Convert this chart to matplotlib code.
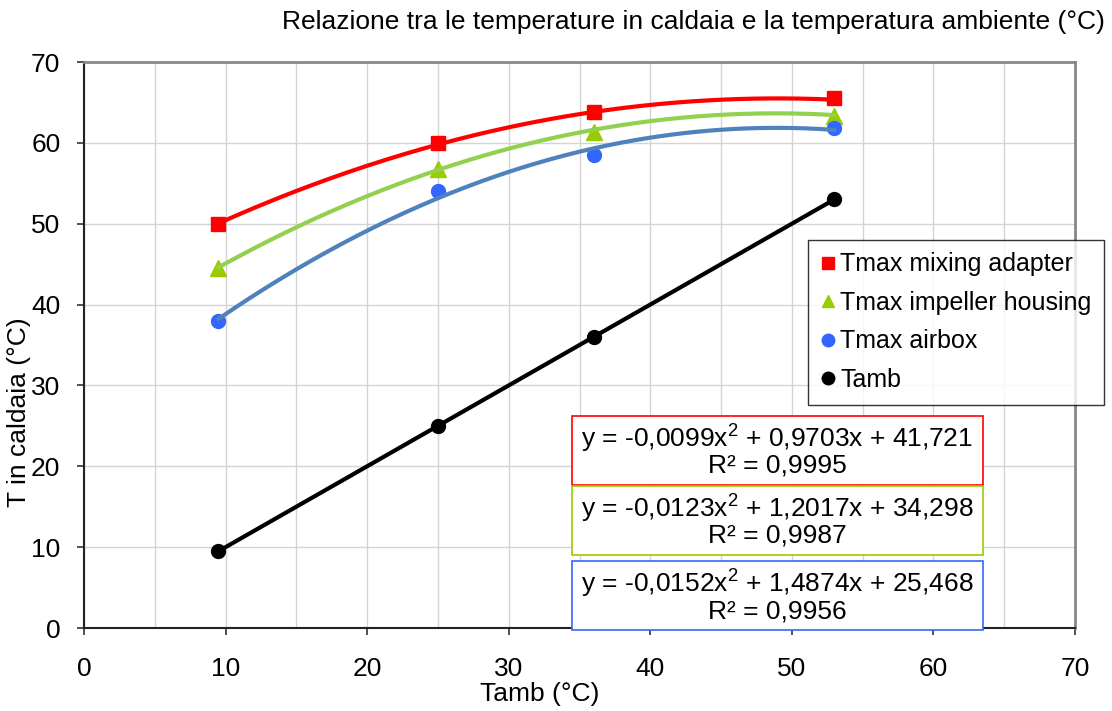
import numpy as np
import matplotlib
matplotlib.use('Agg')
import matplotlib.pyplot as plt
from matplotlib.lines import Line2D
from matplotlib.patches import Rectangle

plt.rcParams['font.family'] = ['Liberation Sans', 'DejaVu Sans']
plt.rcParams['mathtext.fontset'] = 'custom'
plt.rcParams['mathtext.rm'] = 'Liberation Sans'

# DATA
tamb = [9.5, 25, 36, 53]
t_mixing = [50, 60, 63.8, 65.5]
t_impeller = [44.5, 56.8, 61.3, 63.3]
t_airbox = [38, 54, 58.5, 61.8]
t_amb = [9.5, 25, 36, 53]

# trendline coefficients as printed on the chart (a, b, c)
coef_mixing = [-0.0099, 0.9703, 41.721]
coef_impeller = [-0.0123, 1.2017, 34.298]
coef_airbox = [-0.0152, 1.4874, 25.468]
r2_values = ['0,9995', '0,9987', '0,9956']
eq_labels = [
    r'y = -0,0099x$^{\mathregular{2}}$ + 0,9703x + 41,721',
    r'y = -0,0123x$^{\mathregular{2}}$ + 1,2017x + 34,298',
    r'y = -0,0152x$^{\mathregular{2}}$ + 1,4874x + 25,468',
]
series_names = ['Tmax mixing adapter', 'Tmax impeller housing', 'Tmax airbox', 'Tamb']

# PLOT
W, H = 1112, 711
FS = 19
fig = plt.figure(figsize=(W / 100, H / 100), dpi=100)
ax = fig.add_axes([84 / W, 1 - 628 / H, (1075 - 84) / W, (628 - 62) / H])

ax.set_xlim(0, 70)
ax.set_ylim(0, 70)
ax.set_xticks(range(0, 71, 10))
ax.set_xticks(range(5, 70, 10), minor=True)
ax.set_yticks(range(0, 71, 10))
ax.grid(True, which='both', color='#d4d4d4', linewidth=1.0)
ax.set_axisbelow(True)
ax.tick_params(axis='both', which='major', labelsize=FS, direction='out', length=5, width=1.2, color='#333333')
ax.tick_params(axis='x', which='minor', length=0)
ax.tick_params(axis='y', pad=12)
ax.tick_params(axis='x', pad=16)

for s in ['left', 'bottom']:
    ax.spines[s].set_color('#222222')
    ax.spines[s].set_linewidth(1.5)
for s in ['top', 'right']:
    ax.spines[s].set_color('#888888')
    ax.spines[s].set_linewidth(2)

# markers
ax.plot(tamb, t_mixing, 's', color='#ff0000', markersize=10, zorder=3)
ax.plot(tamb, t_impeller, '^', color='#99cc00', markersize=11, zorder=3)
ax.plot(tamb, t_airbox, 'o', color='#3366ff', markersize=10, zorder=3)
ax.plot(tamb, t_amb, 'o-', color='black', markersize=10, linewidth=3, zorder=3)

# polynomial trendlines
xs = np.linspace(min(tamb), max(tamb), 200)
ax.plot(xs, np.polyval(coef_mixing, xs), color='#ff0000', linewidth=3, zorder=4)
ax.plot(xs, np.polyval(coef_impeller, xs), color='#92d050', linewidth=3, zorder=4)
ax.plot(xs, np.polyval(coef_airbox, xs), color='#4f81bd', linewidth=3, zorder=4)

# legend
handles = [
    Line2D([], [], marker='s', color='#ff0000', linestyle='none', markersize=9),
    Line2D([], [], marker='^', color='#99cc00', linestyle='none', markersize=9),
    Line2D([], [], marker='o', color='#3366ff', linestyle='none', markersize=9),
    Line2D([], [], marker='o', color='black', linestyle='none', markersize=9),
]
leg = fig.legend(handles, series_names, loc='upper left', bbox_to_anchor=(808 / W, 1 - 240 / H),
                 fontsize=18, frameon=True, fancybox=False, edgecolor='black',
                 handlelength=0.6, handletextpad=0.2, borderpad=0.5, labelspacing=0.58,
                 borderaxespad=0)
leg.get_frame().set_linewidth(1.0)

# equation boxes
box_colors = ['#ff0000', '#99cc00', '#3366ff']
box_tops = [416, 486, 561]
box_h = 69
for lab, r2, col, top in zip(eq_labels, r2_values, box_colors, box_tops):
    fig.patches.append(Rectangle((572 / W, 1 - (top + box_h) / H), (983 - 572) / W, box_h / H,
                                 transform=fig.transFigure, facecolor='white', edgecolor=col,
                                 linewidth=1.2, zorder=5))
    fig.text(777 / W, 1 - (top + 22) / H, lab, ha='center', va='center', fontsize=FS, zorder=6)
    fig.text(777 / W, 1 - (top + 50) / H, 'R² = ' + r2, ha='center', va='center', fontsize=FS, zorder=6)

# titles and labels
fig.text(1105 / W, 1 - 22 / H, 'Relazione tra le temperature in caldaia e la temperatura ambiente (°C)',
         ha='right', va='center', fontsize=FS)
fig.text(540 / W, 1 - 694 / H, 'Tamb (°C)', ha='center', va='center', fontsize=FS)
fig.text(19 / W, 1 - 412 / H, 'T in caldaia (°C)', ha='center', va='center', rotation=90, fontsize=FS)

fig.savefig('out.png', dpi=100)
